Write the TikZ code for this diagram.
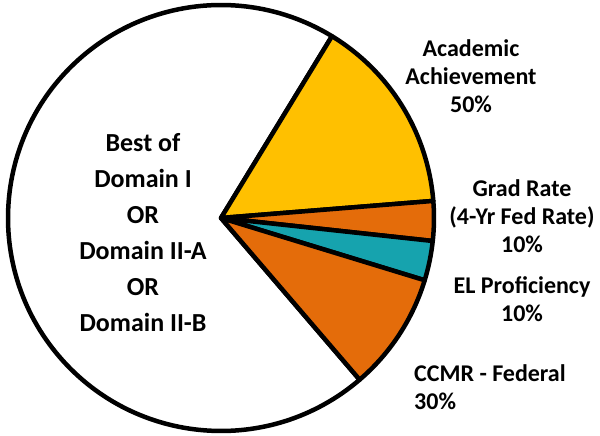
\documentclass[tikz,border=0pt]{standalone}
\usepackage{fontspec}
\setmainfont{Carlito}
\definecolor{pieyellow}{RGB}{255,192,0}
\definecolor{pieorange}{RGB}{228,108,10}
\definecolor{pieteal}{RGB}{22,163,174}
\begin{document}
\begin{tikzpicture}[x=1pt,y=1pt,
  slice/.style={draw=black,line width=4.5pt,line join=round},
  rlabel/.style={font=\bfseries\fontsize{24}{28}\selectfont,align=center,inner sep=0pt},
  llabel/.style={font=\bfseries\fontsize{26}{36}\selectfont,align=center,inner sep=0pt}]
\useasboundingbox[fill=white] (0,0) rectangle (600,436);
\coordinate (O) at (221,218);
\def\R{213}
\begin{scope}[shift={(221,218)}]
  \filldraw[slice,fill=white] (0,0) -- (-49.4:\R) arc[start angle=-49.4,end angle=-301.4,radius=\R] -- cycle;
  \filldraw[slice,fill=pieyellow] (0,0) -- (58.6:\R) arc[start angle=58.6,end angle=4.6,radius=\R] -- cycle;
  \filldraw[slice,fill=pieorange] (0,0) -- (4.6:\R) arc[start angle=4.6,end angle=-6.2,radius=\R] -- cycle;
  \filldraw[slice,fill=pieteal] (0,0) -- (-6.2:\R) arc[start angle=-6.2,end angle=-17,radius=\R] -- cycle;
  \filldraw[slice,fill=pieorange] (0,0) -- (-17:\R) arc[start angle=-17,end angle=-49.4,radius=\R] -- cycle;
\end{scope}
\node[llabel] (domains) at (143,203) {Best of\\Domain I\\OR\\Domain II-A\\OR\\Domain II-B};
\node[rlabel] (acad) at (471,360) {Academic\\Achievement\\50\%};
\node[rlabel] (grad) at (522,220) {Grad Rate\\(4-Yr Fed Rate)\\10\%};
\node[rlabel] (el) at (522,137) {EL Proficiency\\10\%};
\node[rlabel,align=left,anchor=west] (ccmr) at (414,49) {CCMR - Federal\\30\%};
\end{tikzpicture}
\end{document}
